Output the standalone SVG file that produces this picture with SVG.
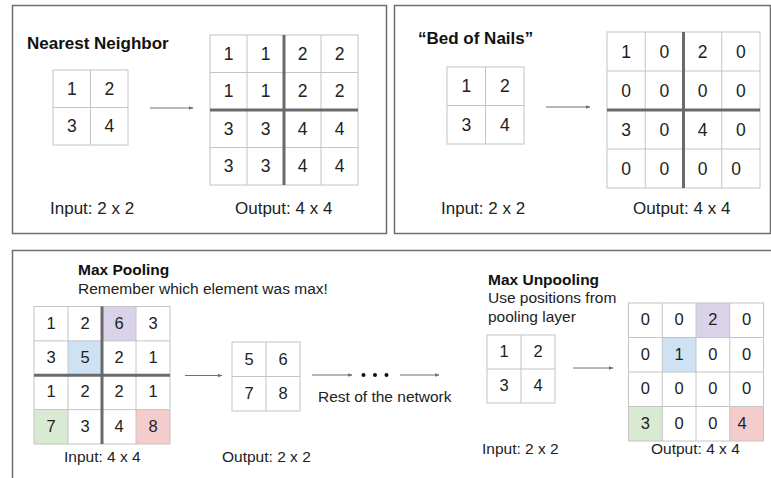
<svg xmlns="http://www.w3.org/2000/svg" width="771" height="478" viewBox="0 0 771 478">
  <style>
    .panel { fill: #ffffff; stroke: #6f6f6f; stroke-width: 1.5; }
    .cellbox { fill: none; stroke: #c4c4c4; stroke-width: 1; }
    .thin { fill: none; stroke: #c4c4c4; stroke-width: 1; }
    .thick { fill: none; stroke: #6a6a6a; stroke-width: 3; }
    .num { font-family: "Liberation Sans", Arial, sans-serif; font-size: 17.5px; fill: #222222; text-anchor: middle; }
    .num-sm { font-family: "Liberation Sans", Arial, sans-serif; font-size: 16.5px; fill: #222222; text-anchor: middle; }
    .title { font-family: "Liberation Sans", Arial, sans-serif; font-size: 17px; font-weight: bold; fill: #111111; }
    .title-sm { font-family: "Liberation Sans", Arial, sans-serif; font-size: 15.5px; font-weight: bold; fill: #111111; }
    .label { font-family: "Liberation Sans", Arial, sans-serif; font-size: 17px; fill: #222222; }
    .label-sm { font-family: "Liberation Sans", Arial, sans-serif; font-size: 15.5px; fill: #222222; }
    .arrow { fill: none; stroke: #707070; stroke-width: 1; marker-end: url(#head); }
    .purple { fill: #d9d2e9; }
    .blue { fill: #cfe2f3; }
    .green { fill: #d9ead3; }
    .red { fill: #f4cccc; }
  </style>
  <defs>
    <marker id="head" viewBox="0 0 10 10" refX="9" refY="5" markerWidth="5" markerHeight="5" orient="auto" markerUnits="userSpaceOnUse">
      <path d="M0,1 L10,5 L0,9 Z" fill="#707070"/>
    </marker>
  </defs>

  <rect width="771" height="478" fill="#ffffff"/>

  <!-- panel frames -->
  <g id="panels">
    <rect class="panel" x="12.5" y="5.5" width="374" height="228"/>
    <rect class="panel" x="394.5" y="5.5" width="376" height="228"/>
    <rect class="panel" x="12.5" y="250.5" width="790" height="260"/>
  </g>

  <!-- Nearest Neighbor -->
  <g id="nn-title">
    <text class="title" x="27" y="48.5">Nearest Neighbor</text>
  </g>
  <g id="nn-input">
    <rect class="cellbox" x="53" y="70" width="75" height="75"/>
    <path class="thin" d="M90.5,70 V145 M53,107.5 H128"/>
    <text class="num" x="71.75" y="94.5">1</text>
    <text class="num" x="109.25" y="94.5">2</text>
    <text class="num" x="71.75" y="132">3</text>
    <text class="num" x="109.25" y="132">4</text>
  </g>
  <g id="nn-output">
    <rect class="cellbox" x="210" y="35" width="148" height="150"/>
    <path class="thin" d="M247,35 V185 M321,35 V185 M210,72.5 H358 M210,147.5 H358"/>
    <path class="thick" d="M284,35 V185 M210,110 H358"/>
    <text class="num" x="228.5" y="59.75">1</text>
    <text class="num" x="265.5" y="59.75">1</text>
    <text class="num" x="302.5" y="59.75">2</text>
    <text class="num" x="339.5" y="59.75">2</text>
    <text class="num" x="228.5" y="97.25">1</text>
    <text class="num" x="265.5" y="97.25">1</text>
    <text class="num" x="302.5" y="97.25">2</text>
    <text class="num" x="339.5" y="97.25">2</text>
    <text class="num" x="228.5" y="134.75">3</text>
    <text class="num" x="265.5" y="134.75">3</text>
    <text class="num" x="302.5" y="134.75">4</text>
    <text class="num" x="339.5" y="134.75">4</text>
    <text class="num" x="228.5" y="172.25">3</text>
    <text class="num" x="265.5" y="172.25">3</text>
    <text class="num" x="302.5" y="172.25">4</text>
    <text class="num" x="339.5" y="172.25">4</text>
  </g>
  <g id="nn-labels">
    <text class="label" x="50" y="214">Input: 2 x 2</text>
    <text class="label" x="235" y="214">Output: 4 x 4</text>
  </g>

  <!-- Bed of Nails -->
  <g id="bon-title">
    <text class="title" x="418" y="44">“Bed of Nails”</text>
  </g>
  <g id="bon-input">
    <rect class="cellbox" x="447" y="67" width="77" height="77"/>
    <path class="thin" d="M485.5,67 V144 M447,105.5 H524"/>
    <text class="num" x="466.25" y="92">1</text>
    <text class="num" x="504.75" y="92">2</text>
    <text class="num" x="466.25" y="130.5">3</text>
    <text class="num" x="504.75" y="130.5">4</text>
  </g>
  <g id="bon-output">
    <rect class="cellbox" x="607" y="32" width="153" height="156"/>
    <path class="thin" d="M645.25,32 V188 M721.75,32 V188 M607,71 H760 M607,149 H760"/>
    <path class="thick" d="M683.5,32 V188 M607,110 H760"/>
    <text class="num" x="626.1" y="57.5">1</text>
    <text class="num" x="664.4" y="57.5">0</text>
    <text class="num" x="702.6" y="57.5">2</text>
    <text class="num" x="740.9" y="57.5">0</text>
    <text class="num" x="626.1" y="96.5">0</text>
    <text class="num" x="664.4" y="96.5">0</text>
    <text class="num" x="702.6" y="96.5">0</text>
    <text class="num" x="740.9" y="96.5">0</text>
    <text class="num" x="626.1" y="135.5">3</text>
    <text class="num" x="664.4" y="135.5">0</text>
    <text class="num" x="702.6" y="135.5">4</text>
    <text class="num" x="740.9" y="135.5">0</text>
    <text class="num" x="626.1" y="174.5">0</text>
    <text class="num" x="664.4" y="174.5">0</text>
    <text class="num" x="702.6" y="174.5">0</text>
    <text class="num" x="736" y="174.5">0</text>
  </g>
  <g id="bon-labels">
    <text class="label" x="441" y="214">Input: 2 x 2</text>
    <text class="label" x="633" y="214">Output: 4 x 4</text>
  </g>

  <!-- Max Pooling -->
  <g id="mp-title">
    <text class="title-sm" x="78" y="275">Max Pooling</text>
    <text class="label-sm" x="78" y="293.5">Remember which element was max!</text>
  </g>
  <g id="mp-input">
    <rect class="purple" x="102" y="306.5" width="34" height="34.4"/>
    <rect class="blue" x="68" y="340.9" width="34" height="34.4"/>
    <rect class="green" x="34" y="409.6" width="34" height="34.4"/>
    <rect class="red" x="136" y="409.6" width="34" height="34.4"/>
    <rect class="cellbox" x="34" y="306.5" width="136" height="137.5"/>
    <path class="thin" d="M68,306.5 V444 M136,306.5 V444 M34,340.9 H170 M34,409.6 H170"/>
    <path class="thick" d="M102,306.5 V444 M34,375.25 H170"/>
    <text class="num-sm" x="51" y="328.5">1</text>
    <text class="num-sm" x="85" y="328.5">2</text>
    <text class="num-sm" x="119" y="328.5">6</text>
    <text class="num-sm" x="153" y="328.5">3</text>
    <text class="num-sm" x="51" y="362.9">3</text>
    <text class="num-sm" x="85" y="362.9">5</text>
    <text class="num-sm" x="119" y="362.9">2</text>
    <text class="num-sm" x="153" y="362.9">1</text>
    <text class="num-sm" x="51" y="397.3">1</text>
    <text class="num-sm" x="85" y="397.3">2</text>
    <text class="num-sm" x="119" y="397.3">2</text>
    <text class="num-sm" x="153" y="397.3">1</text>
    <text class="num-sm" x="51" y="431.6">7</text>
    <text class="num-sm" x="85" y="431.6">3</text>
    <text class="num-sm" x="119" y="431.6">4</text>
    <text class="num-sm" x="153" y="431.6">8</text>
  </g>
  <g id="mp-output">
    <rect class="cellbox" x="232" y="342" width="68" height="69"/>
    <path class="thin" d="M266,342 V411 M232,376.5 H300"/>
    <text class="num-sm" x="249" y="364.5">5</text>
    <text class="num-sm" x="283" y="364.5">6</text>
    <text class="num-sm" x="249" y="399">7</text>
    <text class="num-sm" x="283" y="399">8</text>
  </g>
  <g id="rest-of-network">
    <circle cx="363.5" cy="375" r="2" fill="#111111"/>
    <circle cx="375" cy="375" r="2" fill="#111111"/>
    <circle cx="386.5" cy="375" r="2" fill="#111111"/>
    <text class="label-sm" x="318" y="402">Rest of the network</text>
  </g>
  <g id="mp-labels">
    <text class="label-sm" x="64" y="461.5">Input: 4 x 4</text>
    <text class="label-sm" x="222" y="461.5">Output: 2 x 2</text>
  </g>

  <!-- Max Unpooling -->
  <g id="mu-title">
    <text class="title-sm" x="488" y="285">Max Unpooling</text>
    <text class="label-sm" x="488" y="303.3">Use positions from</text>
    <text class="label-sm" x="488" y="321.7">pooling layer</text>
  </g>
  <g id="mu-input">
    <rect class="cellbox" x="487" y="335" width="68" height="68"/>
    <path class="thin" d="M521,335 V403 M487,369 H555"/>
    <text class="num-sm" x="504" y="357">1</text>
    <text class="num-sm" x="538" y="357">2</text>
    <text class="num-sm" x="504" y="391">3</text>
    <text class="num-sm" x="538" y="391">4</text>
  </g>
  <g id="mu-output">
    <rect class="purple" x="696" y="303" width="33.75" height="34.5"/>
    <rect class="blue" x="662.25" y="337.5" width="33.75" height="34.5"/>
    <rect class="green" x="628.5" y="406.5" width="33.75" height="34.5"/>
    <rect class="red" x="729.75" y="406.5" width="33.75" height="34.5"/>
    <rect class="cellbox" x="628.5" y="303" width="135" height="138"/>
    <path class="thin" d="M662.25,303 V441 M696,303 V441 M729.75,303 V441 M628.5,337.5 H763.5 M628.5,372 H763.5 M628.5,406.5 H763.5"/>
    <text class="num-sm" x="645.4" y="325">0</text>
    <text class="num-sm" x="679.1" y="325">0</text>
    <text class="num-sm" x="712.9" y="325">2</text>
    <text class="num-sm" x="746.6" y="325">0</text>
    <text class="num-sm" x="645.4" y="359.5">0</text>
    <text class="num-sm" x="679.1" y="359.5">1</text>
    <text class="num-sm" x="712.9" y="359.5">0</text>
    <text class="num-sm" x="746.6" y="359.5">0</text>
    <text class="num-sm" x="645.4" y="394">0</text>
    <text class="num-sm" x="679.1" y="394">0</text>
    <text class="num-sm" x="712.9" y="394">0</text>
    <text class="num-sm" x="746.6" y="394">0</text>
    <text class="num-sm" x="645.4" y="428.5">3</text>
    <text class="num-sm" x="679.1" y="428.5">0</text>
    <text class="num-sm" x="712.9" y="428.5">0</text>
    <text class="num-sm" x="742" y="428.5">4</text>
  </g>
  <g id="mu-labels">
    <text class="label-sm" x="482" y="453.5">Input: 2 x 2</text>
    <text class="label-sm" x="651" y="453.5">Output: 4 x 4</text>
  </g>

  <!-- connectors -->
  <g id="connectors">
    <path class="arrow" d="M150,108 H193"/>
    <path class="arrow" d="M546,107 H590"/>
    <path class="arrow" d="M185,375.5 H222"/>
    <path class="arrow" d="M312,375 H352"/>
    <path class="arrow" d="M400,375 H439"/>
    <path class="arrow" d="M573,368 H613"/>
  </g>
</svg>
